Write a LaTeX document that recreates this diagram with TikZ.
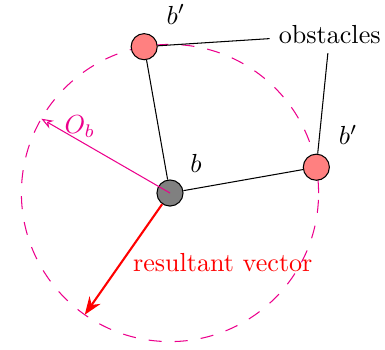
\documentclass[tikz,border=0pt]{standalone}
\usepackage{xcolor}
\usepackage{tikz}
\usetikzlibrary{positioning, arrows.meta, calc}
\definecolor{procmag}{RGB}{236,0,140}

\begin{document}
\begin{tikzpicture}[
  robot/.style={draw, circle, fill=gray, minimum size=10pt, inner sep=0pt},
  obst/.style={draw, circle, fill=red!50, minimum size=10pt, inner sep=0pt},
  conn/.style={thin},
  sensor/.style={procmag, dash pattern=on 5pt off 5pt},
  arr/.style={-{Stealth[length=2.4mm]}, thick, red}
]
\useasboundingbox (-2.288,-2.10) rectangle (2.894,2.598);
\draw[sensor] (0,0) circle (2);

\node[robot] (b) at (0,0) {};
\node[obst] (b1) at (100:2) {};
\node[obst] (b2) at (10:2) {};

\node[above right=0.02cm and 0.02cm of b] {$b$};
\node[above right=0.05cm and 0.05cm of b1] {$b'$};
\node[above right=0.05cm and 0.05cm of b2] {$b'$};
\node (obs) at (2.15,2.13) {obstacles};

\draw[conn] (b) -- (b1);
\draw[conn] (b) -- (b2);
\draw[conn] (obs) -- (b1);
\draw[conn] (obs) -- (b2);

\draw[procmag, thin, -{Stealth[length=1.6mm, open]}] (b.center) -- (150:2)
  node[pos=0.7, above, inner sep=1pt, text=procmag] {$O_b$};
\draw[arr] (b) -- (235:2);
\node[text=red] (rv) at (0.71,-0.94) {resultant vector};
\end{tikzpicture}
\end{document}
